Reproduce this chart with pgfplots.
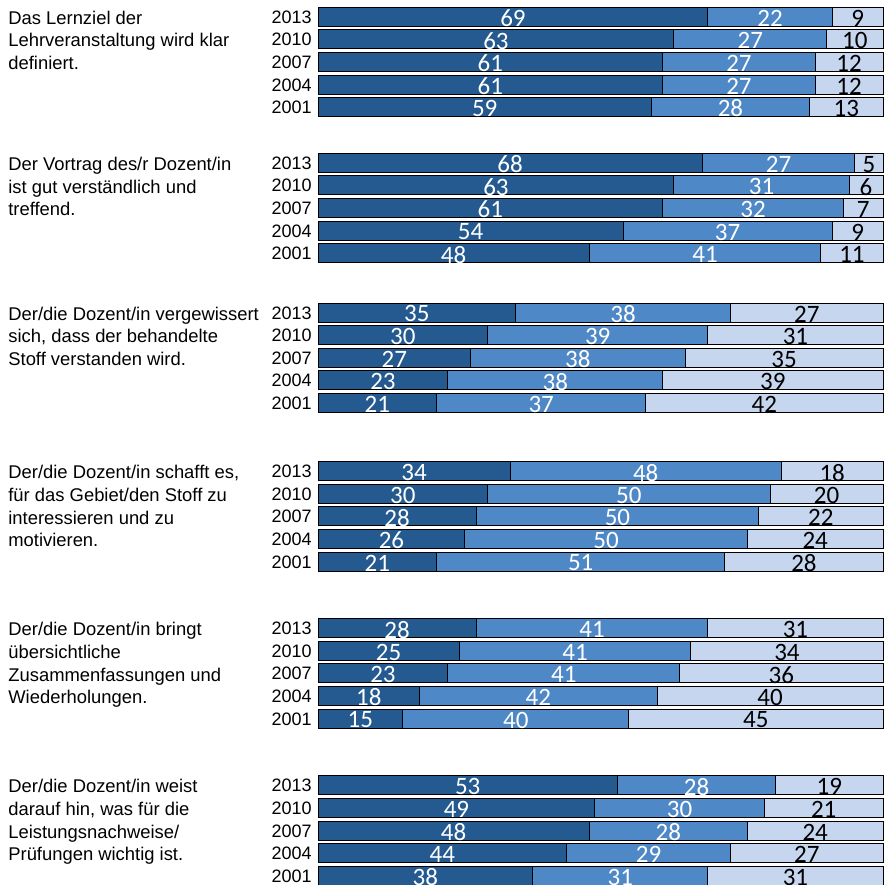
\documentclass[border=0pt]{standalone}
\usepackage{pgfplots}
\usepackage{pgfplotstable}
\pgfplotsset{compat=1.18}
\usepackage{fontspec}
\setmainfont{Liberation Sans}
\newfontfamily\numfont{Carlito}

\definecolor{cdark}{RGB}{36,90,143}
\definecolor{cmid}{RGB}{79,136,198}
\definecolor{clight}{RGB}{198,214,238}

% y = bar centre in px from the top, a/b/c = shares in percent
\pgfplotstableread{
y     a  b  c  year
16.7  69 22  9 2013
39.3  63 27 10 2010
61.9  61 27 12 2007
84.5  61 27 12 2004
107.1 59 28 13 2001
162.8 68 27  5 2013
185.4 63 31  6 2010
208.0 61 32  7 2007
230.6 54 37  9 2004
253.2 48 41 11 2001
312.5 35 38 27 2013
335.1 30 39 31 2010
357.7 27 38 35 2007
380.3 23 38 39 2004
402.9 21 37 42 2001
471.2 34 48 18 2013
493.8 30 50 20 2010
516.4 28 50 22 2007
539.0 26 50 24 2004
561.6 21 51 28 2001
628.2 28 41 31 2013
650.8 25 41 34 2010
673.4 23 41 36 2007
696.0 18 42 40 2004
718.6 15 40 45 2001
785.3 53 28 19 2013
807.9 49 30 21 2010
830.5 48 28 24 2007
853.1 44 29 27 2004
875.7 38 31 31 2001
}\data

\pgfplotsset{
  base/.style={
    scale only axis, width=442.5pt, height=442.5pt,
    xmin=-56.28, xmax=100.35, ymin=0, ymax=885,
    y dir=reverse, hide axis, clip=false,
  },
  lbl/.style={
    only marks, mark=*, mark size=0pt, mark options={draw=none,fill=none},
    nodes near coords, point meta=explicit symbolic,
    nodes near coords style={anchor=center, font=\numfont\fontsize{12.5}{12.5}\selectfont,
      inner sep=0pt, yshift=-0.7pt, text=#1},
  },
}

\begin{document}
\begin{tikzpicture}
\begin{axis}[base, xbar stacked, bar width=19]
  \addplot[fill=cdark, draw=black, line width=0.5pt] table[x=a, y=y] {\data};
  \addplot[fill=cmid, draw=black, line width=0.5pt] table[x=b, y=y] {\data};
  \addplot[fill=clight, draw=black, line width=0.5pt] table[x=c, y=y] {\data};
\end{axis}
\begin{axis}[base]
  \addplot[lbl=white] table[x expr=\thisrow{a}/2, y=y, meta=a] {\data};
  \addplot[lbl=white] table[x expr=\thisrow{a}+\thisrow{b}/2, y=y, meta=b] {\data};
  \addplot[lbl=black] table[x expr=\thisrow{a}+\thisrow{b}+\thisrow{c}/2, y=y, meta=c] {\data};
  % year labels
  \addplot[only marks, mark=*, mark size=0pt, mark options={draw=none,fill=none},
    nodes near coords, point meta=explicit symbolic,
    nodes near coords style={anchor=base east, inner sep=0pt,
      font=\fontsize{9}{9}\selectfont, yshift=-3.25pt}]
    table[x expr=-1.06, y=y, meta=year] {\data};

  \tikzset{q/.style={anchor=base west, inner sep=0pt, font=\fontsize{9.2}{9.2}\selectfont}}
  \def\lx{-54.87}
  \node[q] at (axis cs:\lx,24.2) {Das Lernziel der};
  \node[q] at (axis cs:\lx,46.9) {Lehrveranstaltung wird klar};
  \node[q] at (axis cs:\lx,69.6) {definiert.};

  \node[q] at (axis cs:\lx,170.3) {Der Vortrag des/r Dozent/in};
  \node[q] at (axis cs:\lx,193.0) {ist gut verständlich und};
  \node[q] at (axis cs:\lx,215.7) {treffend.};

  \node[q] at (axis cs:\lx,320.0) {Der/die Dozent/in vergewissert};
  \node[q] at (axis cs:\lx,342.7) {sich, dass der behandelte};
  \node[q] at (axis cs:\lx,365.4) {Stoff verstanden wird.};

  \node[q] at (axis cs:\lx,478.7) {Der/die Dozent/in schafft es,};
  \node[q] at (axis cs:\lx,501.4) {für das Gebiet/den Stoff zu};
  \node[q] at (axis cs:\lx,524.1) {interessieren und zu};
  \node[q] at (axis cs:\lx,546.8) {motivieren.};

  \node[q] at (axis cs:\lx,635.7) {Der/die Dozent/in bringt};
  \node[q] at (axis cs:\lx,658.4) {übersichtliche};
  \node[q] at (axis cs:\lx,681.1) {Zusammenfassungen und};
  \node[q] at (axis cs:\lx,703.8) {Wiederholungen.};

  \node[q] at (axis cs:\lx,792.8) {Der/die Dozent/in weist};
  \node[q] at (axis cs:\lx,815.5) {darauf hin, was für die};
  \node[q] at (axis cs:\lx,838.2) {Leistungsnachweise/};
  \node[q] at (axis cs:\lx,860.9) {Prüfungen wichtig ist.};

  \coordinate (bl) at (axis cs:-56.28,885);
  \coordinate (tr) at (axis cs:100.35,0);
\end{axis}
\pgfresetboundingbox
\path[use as bounding box] (bl) rectangle (tr);
\end{tikzpicture}
\end{document}
